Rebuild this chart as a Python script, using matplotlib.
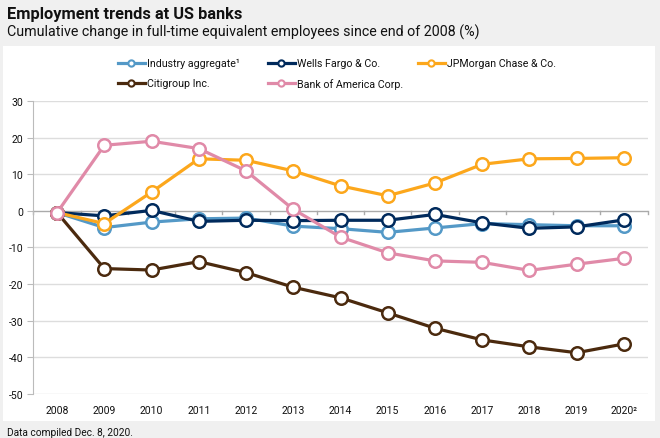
import matplotlib.pyplot as plt
from matplotlib.lines import Line2D
from matplotlib.patches import Rectangle

years = ['2008', '2009', '2010', '2011', '2012', '2013', '2014',
         '2015', '2016', '2017', '2018', '2019', '2020²']

industry = [-0.5, -4.6, -3.1, -2.2, -2.0, -4.2, -4.9, -5.9, -4.7, -3.5, -3.8, -4.1, -4.1]
wells = [-0.5, -1.4, 0.1, -2.9, -2.6, -2.7, -2.6, -2.6, -1.0, -3.3, -4.8, -4.4, -2.5]
jpm = [-0.5, -3.5, 5.1, 14.2, 13.8, 10.9, 6.8, 4.1, 7.6, 12.7, 14.2, 14.3, 14.5]
citi = [-0.5, -15.8, -16.2, -13.9, -16.9, -20.9, -23.8, -27.9, -32.1, -35.3, -37.2, -38.8, -36.4]
bofa = [-0.5, 17.9, 19.0, 17.0, 10.9, 0.4, -7.2, -11.5, -13.7, -14.1, -16.3, -14.6, -13.0]

series = [
    ('Industry aggregate¹', industry, '#5499c7'),
    ('Wells Fargo & Co.', wells, '#002a5c'),
    ('JPMorgan Chase & Co.', jpm, '#fca71c'),
    ('Citigroup Inc.', citi, '#4b2a0e'),
    ('Bank of America Corp.', bofa, '#e08aa8'),
]

plt.rcParams['font.family'] = ['Roboto', 'DejaVu Sans']

W, H = 660, 439
fig = plt.figure(figsize=(W / 100, H / 100), dpi=100)
fig.patch.set_facecolor('#f0f0f0')

# white panel behind chart
fig.patches.append(Rectangle((3 / W, 1 - 421.5 / H), 652 / W, (421.5 - 47) / H,
                             transform=fig.transFigure, facecolor='white',
                             edgecolor='none', zorder=-5))

fig.text(7 / W, 1 - 14 / H, 'Employment trends at US banks', fontsize=11.8,
         fontweight='bold', va='center', ha='left', color='#111111')
fig.text(7 / W, 1 - 32 / H, 'Cumulative change in full-time equivalent employees since end of 2008 (%)',
         fontsize=10.3, va='center', ha='left', color='#111111')
fig.text(7 / W, 1 - 433 / H, 'Data compiled Dec. 8, 2020.', fontsize=7.3,
         va='center', ha='left', color='#111111')

ax = fig.add_axes([33 / W, 1 - 394.7 / H, (648 - 33) / W, (394.7 - 102) / H])
ax.set_facecolor('none')
ax.set_zorder(2)

x = list(range(len(years)))
for name, vals, col in series:
    ax.plot(x, vals, color=col, lw=2.3, marker='o', ms=9, mfc='white',
            mec=col, mew=1.8, zorder=3, clip_on=False)

ax.set_xlim(-0.51, len(years) - 0.49)
ax.set_ylim(-50, 30)
ax.set_yticks(range(-50, 31, 10))
ax.set_yticklabels([str(v) for v in range(-50, 31, 10)])
ax.set_xticks(x)
ax.set_xticklabels(years)

for v in range(-50, 31, 10):
    if v != 0:
        ax.axhline(v, color='#dddddd', lw=1, zorder=1)
ax.axhline(0, color='#aaaaaa', lw=1, zorder=2)
# category boundary ticks on the zero line
for b in range(len(years) + 1):
    ax.plot([b - 0.5, b - 0.5], [0, -0.9], color='#aaaaaa', lw=1, zorder=2, clip_on=False)

for s in ['top', 'right', 'bottom']:
    ax.spines[s].set_visible(False)
ax.spines['left'].set_color('#bbbbbb')
ax.tick_params(axis='y', length=4, color='#bbbbbb', labelsize=7.5, pad=3, labelcolor='#111111')
ax.tick_params(axis='x', length=0, labelsize=7.5, pad=8, labelcolor='#111111')

# legend with fixed columns
leg_pos = [(118, 64.3), (268, 64.3), (418, 64.3), (118, 84.3), (268, 84.3)]
for (name, vals, col), (lx, ly) in zip(series, leg_pos):
    yf = 1 - ly / H
    fig.add_artist(Line2D([lx / W, (lx + 27) / W], [yf, yf], transform=fig.transFigure,
                          color=col, lw=2.3))
    fig.add_artist(Line2D([(lx + 13) / W], [yf], transform=fig.transFigure, marker='o',
                          ms=4.5, mfc='white', mec=col, mew=1.5, lw=0))
    fig.text((lx + 29) / W, yf, name, fontsize=7.7, va='center', ha='left', color='#111111')

fig.savefig('out.png', dpi=100, facecolor=fig.get_facecolor())
